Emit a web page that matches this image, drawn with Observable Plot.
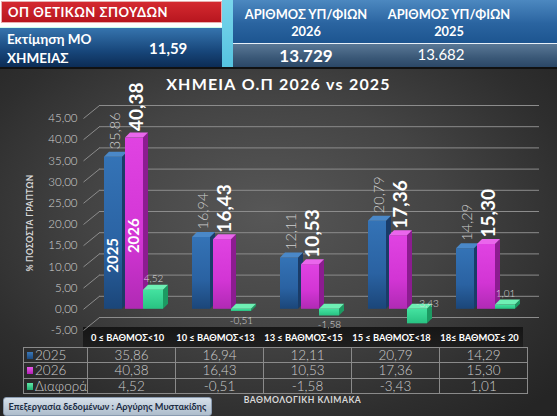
<!DOCTYPE html>
<html><head><meta charset="utf-8">
<script src="https://cdn.jsdelivr.net/npm/d3@7"></script>
<script src="https://cdn.jsdelivr.net/npm/@observablehq/plot@0.6"></script>
<style>
body{margin:0;width:557px;height:419px;overflow:hidden;background:#fff;font-family:Lato,"Open Sans",sans-serif;}
#root{position:relative;width:557px;height:419px;overflow:hidden;background:#fff;}
.abs{position:absolute;}
#chartbg{left:0;top:68px;width:557px;height:348px;background:radial-gradient(ellipse 70% 75% at 48% 42%,#575757 0%,#444 45%,#2e2e2e 80%,#252525 100%);}
#red{left:1px;top:1px;width:221px;height:22px;background:linear-gradient(#d42a30,#b8161f);border:1px solid #e8b0b0;box-sizing:border-box;color:#fff;font-weight:700;font-size:13px;letter-spacing:0.5px;line-height:21px;padding-left:6px;}
#est{left:0;top:27px;width:222px;height:40px;background:linear-gradient(#3674ae,#17467a 60%,#0c2c55);border-top:1px solid #cfe;box-sizing:border-box;color:#fff;font-weight:700;}
#cyan{left:222px;top:0;width:11px;height:67px;background:linear-gradient(#7ad6ec,#55c3e0);}
#rtop{left:233px;top:0;width:324px;height:43px;background:linear-gradient(#4c88c0,#2a64a0 55%,#1d5590);}
#rbot{left:233px;top:44px;width:324px;height:23px;background:linear-gradient(#5a7896,#3a5877 60%,#2b4766);}
#rline{left:233px;top:43px;width:324px;height:1px;background:#e8f0f8;}
#hline{left:0;top:67px;width:557px;height:2px;background:#111;}
.hdr{color:#fff;font-weight:700;font-size:12.8px;line-height:17px;text-align:center;width:150px;}
#title{left:0;width:557px;top:74px;text-align:center;color:#fff;font-weight:700;font-size:16px;letter-spacing:1.2px;}
#ytitle{left:30px;top:223px;transform:translate(-50%,-50%) rotate(-90deg);color:#d8d8d8;font-size:8.5px;font-weight:700;white-space:nowrap;letter-spacing:0.3px;}
#band{left:83px;top:327px;width:440px;height:20px;background:linear-gradient(rgba(18,18,18,0.9),rgba(28,28,28,0.92));}
#xtitle{left:190px;width:225px;top:395px;text-align:center;color:#d8d8d8;font-weight:700;font-size:8.6px;letter-spacing:0.5px;}
#footer{left:3px;top:397px;width:209px;height:19px;border-radius:3px;background:linear-gradient(#d6e0ea,#aebdcc);border:1px solid #8a9bb0;box-sizing:border-box;color:#1c2c44;font-weight:700;font-size:9.2px;line-height:17px;text-align:center;white-space:nowrap;}
#tbl{border-collapse:collapse;table-layout:fixed;}
#tbl td{border:1px solid #8a8a8a;height:14.3px;padding:0;color:#cdcdcd;font-size:13.5px;font-weight:300;line-height:14px;text-align:center;white-space:nowrap;}
#tbl td.lab{text-align:left;padding-left:3px;}
.sq{display:inline-block;width:6px;height:7px;margin-right:2px;vertical-align:1px;}
</style></head><body><div id="root">
<div id="chartbg" class="abs"></div>
<div id="red" class="abs"></div>
<div id="est" class="abs"></div>
<div id="cyan" class="abs"></div>
<div id="rtop" class="abs"></div>
<div id="rline" class="abs"></div>
<div id="rbot" class="abs"></div>
<div id="hline" class="abs"></div>
<div id="title" class="abs"></div>
<div id="ytitle" class="abs"></div>
<div id="band" class="abs"></div>
<div id="plotwrap" class="abs" style="left:0;top:70px;"></div>
<div id="tblwrap" class="abs" style="left:23px;top:347px;"></div>
<div id="xtitle" class="abs"></div>
<div id="footer" class="abs"></div>
</div>
<script>
// ---------- data ----------
const headerTitle = "ΟΠ ΘΕΤΙΚΩΝ ΣΠΟΥΔΩΝ";
const estimateLabel = ["Εκτίμηση ΜΟ", "ΧΗΜΕΙΑΣ"];
const estimateValue = "11,59";
const candidateHeaders = [["ΑΡΙΘΜΟΣ ΥΠ/ΦΙΩΝ", "2026"], ["ΑΡΙΘΜΟΣ ΥΠ/ΦΙΩΝ", "2025"]];
const candidateCounts = ["13.729", "13.682"];
const chartTitle = "ΧΗΜΕΙΑ Ο.Π 2026 vs 2025";
const yTitle = "% ΠΟΣΟΣΤΑ ΓΡΑΠΤΩΝ";
const xTitle = "ΒΑΘΜΟΛΟΓΙΚΗ ΚΛΙΜΑΚΑ";
const footerText = "Επεξεργασία δεδομένων : Αργύρης Μυστακίδης";
const categories = ["0 ≤ ΒΑΘΜΟΣ<10", "10 ≤ ΒΑΘΜΟΣ<13", "13 ≤ ΒΑΘΜΟΣ<15", "15 ≤ ΒΑΘΜΟΣ<18", "18≤ ΒΑΘΜΟΣ≤ 20"];
const seriesNames = ["2025", "2026", "Διαφορά"];
const values2025 = [35.86, 16.94, 12.11, 20.79, 14.29];
const values2026 = [40.38, 16.43, 10.53, 17.36, 15.30];
const valuesDiff = [4.52, -0.51, -1.58, -3.43, 1.01];
const yTicks = [-5, 0, 5, 10, 15, 20, 25, 30, 35, 40, 45];

// ---------- styles / layout ----------
const W = 557, H = 285, ML = 83, MR = 34, MT = 48, MB = 25;
const kx = (W - ML - MR) / 5, ky = (H - MT - MB) / 50;
const DEPTH = 5, GRID_DX = 16, GRID_DY = 13;
const fmt = v => v.toFixed(2).replace(".", ",");
const seriesStyle = [
  {off: [21, 39], front: "url(#gBlue)", side: "#1a3c68", top: "#4a88c8", sq: "linear-gradient(#3a78b8,#1c4a80)"},
  {off: [42, 60], front: "url(#gPink)", side: "#8c1c90", top: "#ea66ec", sq: "linear-gradient(#ea5aea,#b020b4)"},
  {off: [60, 80], front: "url(#gGreen)", side: "#1c9a62", top: "#6ef0b4", sq: "linear-gradient(#5ee8a8,#22b070)"}
];
const seriesValues = [values2025, values2026, valuesDiff];

// ---------- header ----------
document.getElementById("red").textContent = headerTitle;
document.getElementById("est").innerHTML =
  `<div class="abs" style="left:7px;top:2px;font-size:13.5px;line-height:19px">${estimateLabel.join("<br>")}</div>` +
  `<div class="abs" style="left:149px;top:11px;font-size:15px">${estimateValue}</div>`;
const hx = [306, 449];
candidateHeaders.forEach((h, i) => {
  const d = document.createElement("div");
  d.className = "abs hdr"; d.style.left = (hx[i] - 75) + "px"; d.style.top = "6px";
  d.innerHTML = h.join("<br>");
  document.getElementById("root").appendChild(d);
  const c = document.createElement("div");
  c.className = "abs"; c.style.cssText = `left:${hx[i] - 75 - (i ? 8 : 0)}px;width:150px;top:45px;text-align:center;color:#fff;` +
    (i ? "font-size:15px;font-weight:400;" : "font-size:17px;font-weight:700;");
  c.textContent = candidateCounts[i];
  document.getElementById("root").appendChild(c);
});
document.getElementById("title").textContent = chartTitle;
document.getElementById("ytitle").textContent = yTitle;
document.getElementById("xtitle").textContent = xTitle;
document.getElementById("footer").textContent = footerText;

// ---------- bars ----------
const bars = seriesValues.map((vals, s) => vals.map((v, i) => {
  const [a, b] = seriesStyle[s].off;
  return {s, i, v, id: s + "-" + i, xl: i + a / kx, xr: i + b / kx, lo: Math.min(0, v), hi: Math.max(0, v)};
}));
const dxu = DEPTH / kx, dyu = DEPTH / ky;
const barMarks = bars.flatMap((arr, s) => {
  const st = seriesStyle[s];
  const side = arr.flatMap(d => [{id: d.id, x: d.xr, y1: d.lo, y2: d.hi}, {id: d.id, x: d.xr + dxu, y1: d.lo + dyu, y2: d.hi + dyu}]);
  const top = arr.flatMap(d => [{id: d.id, y: d.hi, x1: d.xl, x2: d.xr}, {id: d.id, y: d.hi + dyu, x1: d.xl + dxu, x2: d.xr + dxu}]);
  return [
    Plot.rect(arr, {x1: "xl", x2: "xr", y1: "lo", y2: "hi", fill: st.front}),
    Plot.areaY(side, {x: "x", y1: "y1", y2: "y2", z: "id", fill: st.side}),
    Plot.areaX(top, {y: "y", x1: "x1", x2: "x2", z: "id", fill: st.top})
  ];
});
const cx = d => (d.xl + d.xr) / 2;
const lightFont = "Lato, 'Open Sans', sans-serif";

const chart = Plot.plot({
  width: W, height: H, marginLeft: ML, marginRight: MR, marginTop: MT, marginBottom: MB,
  x: {domain: [0, 5]}, y: {domain: [-5, 45]},
  style: {background: "transparent", fontFamily: lightFont, overflow: "visible"},
  marks: [
    Plot.ruleY(yTicks, {x1: 0, x2: 5, y: d => d, dx: GRID_DX, dy: -GRID_DY, stroke: "#8c8c8c", strokeWidth: 1}),
    Plot.link(yTicks, {x1: 0, y1: d => d, x2: GRID_DX / kx, y2: d => d + GRID_DY / ky, stroke: "#8c8c8c", strokeWidth: 1}),
    Plot.axisY(yTicks, {tickSize: 0, tickPadding: 6, tickFormat: fmt, label: null, fill: "#d2d2d2", fontSize: 11.5, fontWeight: 300}),
    Plot.axisX(d3.range(5).map(i => i + 0.5), {tickSize: 0, tickPadding: 4, tickFormat: t => categories[Math.floor(t)], label: null, fill: "#fff", fontSize: 9.3, fontWeight: 700}),
    ...barMarks,
    Plot.text(bars[0], {x: cx, y: "hi", text: d => fmt(d.v), rotate: -90, textAnchor: "start", dx: 2, dy: -8, fill: "#cfcfcf", fontSize: 14.5, fontWeight: 300}),
    Plot.text(bars[1], {x: cx, y: "hi", text: d => fmt(d.v), rotate: -90, textAnchor: "start", dx: 2, dy: -7, fill: "#fff", fontSize: 19, fontWeight: 700}),
    Plot.text(bars[0].slice(0, 1), {x: cx, y: d => d.v * 0.355, text: () => seriesNames[0], rotate: -90, fill: "#fff", fontSize: 15, fontWeight: 700}),
    Plot.text(bars[1].slice(0, 1), {x: cx, y: d => d.v * 0.43, text: () => seriesNames[1], rotate: -90, fill: "#fff", fontSize: 15, fontWeight: 700}),
    Plot.text(bars[2].filter(d => d.v >= 0), {x: cx, y: "hi", text: d => fmt(d.v), dy: -11, fill: "#dcdcdc", fontSize: 10, fontWeight: 300}),
    Plot.text(bars[2].filter(d => d.v < 0 && d.v > -3), {x: cx, y: "lo", text: d => fmt(d.v), dy: 9, fill: "#dcdcdc", fontSize: 10, fontWeight: 300}),
    Plot.text(bars[2].filter(d => d.v <= -3), {x: "xr", y: "hi", text: d => fmt(d.v), textAnchor: "start", dx: -12, dy: -6, fill: "#dcdcdc", fontSize: 10, fontWeight: 300})
  ]
});
d3.select(chart).insert("defs", ":first-child").html(`
  <linearGradient id="gBlue" x1="0" y1="0" x2="0" y2="1"><stop offset="0" stop-color="#3473b6"/><stop offset="0.6" stop-color="#2a62a2"/><stop offset="1" stop-color="#1b4679"/></linearGradient>
  <linearGradient id="gPink" x1="0" y1="0" x2="0" y2="1"><stop offset="0" stop-color="#e043e2"/><stop offset="0.6" stop-color="#d235d4"/><stop offset="1" stop-color="#b02ab4"/></linearGradient>
  <linearGradient id="gGreen" x1="0" y1="0" x2="0" y2="1"><stop offset="0" stop-color="#44e2a0"/><stop offset="1" stop-color="#28c282"/></linearGradient>`);
document.getElementById("plotwrap").appendChild(chart);

// ---------- data table ----------
const xs = chart.scale("x");
const colW = d3.range(5).map(i => xs.apply(i + 1) - xs.apply(i));
const firstW = xs.apply(0) - 23;
let html = `<table id="tbl"><colgroup><col style="width:${firstW}px">` + colW.map(w => `<col style="width:${w}px">`).join("") + `</colgroup>`;
seriesValues.forEach((vals, s) => {
  html += `<tr><td class="lab"><span class="sq" style="background:${seriesStyle[s].sq}"></span>${seriesNames[s]}</td>` +
    vals.map(v => `<td>${fmt(v)}</td>`).join("") + `</tr>`;
});
html += `</table>`;
document.getElementById("tblwrap").innerHTML = html;
</script>
</body></html>
